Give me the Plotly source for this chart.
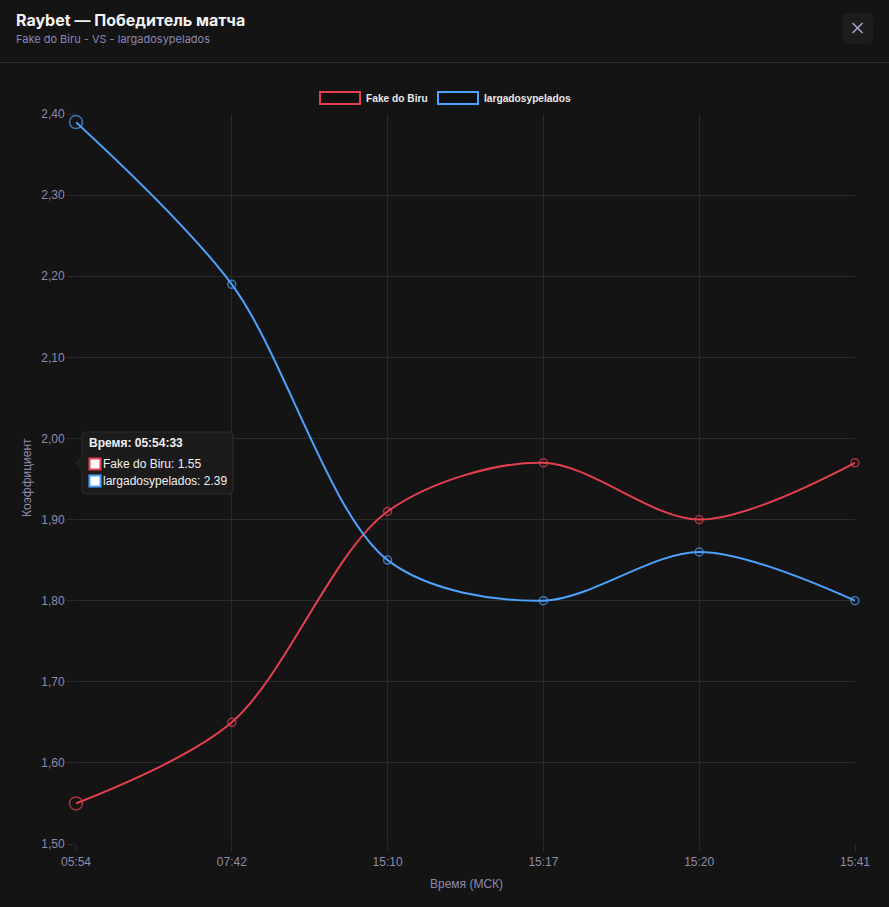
import plotly.graph_objects as go

# ---- data ----
times = ["05:54", "07:42", "15:10", "15:17", "15:20", "15:41"]
fake_do_biru = [1.55, 1.65, 1.91, 1.97, 1.90, 1.97]
largados = [2.39, 2.19, 1.85, 1.80, 1.86, 1.80]
series_names = ["Fake do Biru", "largadosypelados"]
hover_time = "05:54:33"
y_ticks = [1.5, 1.6, 1.7, 1.8, 1.9, 2.0, 2.1, 2.2, 2.3, 2.4]

RED = "#e5404f"
BLUE = "#4da3ff"
BG = "#141414"
GRID = "#2a2a2a"
TICK_C = "#8e8aab"

W, H = 889, 907
L, R, T, B = 76, 855, 114, 844


def px(x):
    return (x - L) / (R - L)


def py(y):
    return (B - y) / (B - T)


fig = go.Figure()
for name, vals, col in [(series_names[0], fake_do_biru, RED), (series_names[1], largados, BLUE)]:
    fig.add_trace(go.Scatter(
        x=times, y=vals, name=name, mode="lines+markers",
        line=dict(color=col, width=2, shape="spline", smoothing=0.9),
        marker=dict(symbol="circle-open", size=[13, 8, 8, 8, 8, 8], color=col,
                    line=dict(width=1.5, color=col)),
        cliponaxis=False, showlegend=False,
    ))

shapes = []
annotations = []

# header
annotations.append(dict(x=px(14), y=py(20), xref="paper", yref="paper", xanchor="left", yanchor="middle",
                        text="<b>Raybet — Победитель матча</b>", showarrow=False,
                        font=dict(family="Inter, Roboto, sans-serif", size=16, color="#f2f2f2")))
annotations.append(dict(x=px(14), y=py(39), xref="paper", yref="paper", xanchor="left", yanchor="middle",
                        text=f"{series_names[0]} - VS - {series_names[1]}", showarrow=False,
                        font=dict(family="Inter, Roboto, sans-serif", size=11, color="#8a87b5")))
shapes.append(dict(type="line", xref="paper", yref="paper", x0=px(0), x1=px(W), y0=py(62.5), y1=py(62.5),
                   line=dict(color="#2a2a2a", width=1)))

# close button (rounded square)
x0, x1, y0, y1, r = 842, 873, 13, 44, 6
path = (f"M {px(x0 + r)},{py(y0)} L {px(x1 - r)},{py(y0)} Q {px(x1)},{py(y0)} {px(x1)},{py(y0 + r)} "
        f"L {px(x1)},{py(y1 - r)} Q {px(x1)},{py(y1)} {px(x1 - r)},{py(y1)} "
        f"L {px(x0 + r)},{py(y1)} Q {px(x0)},{py(y1)} {px(x0)},{py(y1 - r)} "
        f"L {px(x0)},{py(y0 + r)} Q {px(x0)},{py(y0)} {px(x0 + r)},{py(y0)} Z")
shapes.append(dict(type="path", xref="paper", yref="paper", path=path, fillcolor="#1d1d1d", line=dict(width=0)))
for (ax0, ay0, ax1, ay1) in [(852.5, 23, 862.5, 33), (852.5, 33, 862.5, 23)]:
    shapes.append(dict(type="line", xref="paper", yref="paper", x0=px(ax0), y0=py(ay0), x1=px(ax1), y1=py(ay1),
                       line=dict(color="#a8a4cc", width=1.6)))

# legend
leg = [(series_names[0], RED, 320, 364), (series_names[1], BLUE, 438, 482)]
for name, col, bx, tx in leg:
    shapes.append(dict(type="rect", xref="paper", yref="paper", x0=px(bx), x1=px(bx + 40), y0=py(92), y1=py(104),
                       line=dict(color=col, width=2), fillcolor="rgba(0,0,0,0.15)"))
    annotations.append(dict(x=px(tx), y=py(98), xref="paper", yref="paper", xanchor="left", yanchor="middle",
                            text=f"<b>{name}</b>", showarrow=False,
                            font=dict(family="Liberation Sans, Arial, sans-serif", size=10.2, color="#e8e8e8")))

# axis titles
annotations.append(dict(x=px(466), y=py(884), xref="paper", yref="paper", xanchor="center", yanchor="middle",
                        text="Время (МСК)", showarrow=False,
                        font=dict(family="Liberation Sans, Arial, sans-serif", size=12, color=TICK_C)))
annotations.append(dict(x=px(27), y=py(478), xref="paper", yref="paper", xanchor="center", yanchor="middle",
                        text="Коэффициент", textangle=-90, showarrow=False,
                        font=dict(family="Liberation Sans, Arial, sans-serif", size=12, color=TICK_C)))

# tooltip
tx0, tx1, ty0, ty1 = 82, 233, 432, 494
shapes.append(dict(type="path", xref="paper", yref="paper",
                   path=(f"M {px(tx0 + 4)},{py(ty0)} L {px(tx1 - 4)},{py(ty0)} Q {px(tx1)},{py(ty0)} {px(tx1)},{py(ty0 + 4)} "
                         f"L {px(tx1)},{py(ty1 - 4)} Q {px(tx1)},{py(ty1)} {px(tx1 - 4)},{py(ty1)} "
                         f"L {px(tx0 + 4)},{py(ty1)} Q {px(tx0)},{py(ty1)} {px(tx0)},{py(ty1 - 4)} "
                         f"L {px(tx0)},{py(469)} L {px(76.5)},{py(463)} L {px(tx0)},{py(457)} "
                         f"L {px(tx0)},{py(ty0 + 4)} Q {px(tx0)},{py(ty0)} {px(tx0 + 4)},{py(ty0)} Z"),
                   fillcolor="#1b1b1b", line=dict(color="#2c2c2c", width=1)))
annotations.append(dict(x=px(87), y=py(443), xref="paper", yref="paper", xanchor="left", yanchor="middle",
                        text=f"<b>Время: {hover_time}</b>", showarrow=False,
                        font=dict(family="Liberation Sans, Arial, sans-serif", size=12, color="#f0f0f0")))
for i, (name, vals, col) in enumerate([(series_names[0], fake_do_biru, RED), (series_names[1], largados, BLUE)]):
    yc = 464 + i * 17
    shapes.append(dict(type="rect", xref="paper", yref="paper", x0=px(89.5), x1=px(100.5), y0=py(yc - 5.5), y1=py(yc + 5.5),
                       fillcolor="#ffffff", line=dict(color=col, width=2)))
    annotations.append(dict(x=px(101), y=py(yc), xref="paper", yref="paper", xanchor="left", yanchor="middle",
                            text=f"{name}: {vals[0]:.2f}", showarrow=False,
                            font=dict(family="Liberation Sans, Arial, sans-serif", size=12, color="#f0f0f0")))

fig.update_layout(
    width=W, height=H,
    margin=dict(l=L, r=W - R, t=T, b=H - B, pad=0),
    paper_bgcolor=BG, plot_bgcolor=BG,
    separators=",.",
    hovermode=False,
    shapes=shapes, annotations=annotations,
    xaxis=dict(type="category", range=[0, len(times) - 1], showgrid=True, gridcolor=GRID, gridwidth=1,
               ticks="outside", ticklen=7, tickcolor=GRID, zeroline=False, showline=False,
               tickfont=dict(family="Liberation Sans, Arial, sans-serif", size=12, color=TICK_C)),
    yaxis=dict(range=[1.5, 2.4], tickvals=y_ticks, tickformat=".2f", showgrid=True, gridcolor=GRID,
               ticks="outside", ticklen=8, tickcolor=GRID, zeroline=False, showline=False,
               tickfont=dict(family="Liberation Sans, Arial, sans-serif", size=12, color=TICK_C)),
)

fig.write_html("out.html")
